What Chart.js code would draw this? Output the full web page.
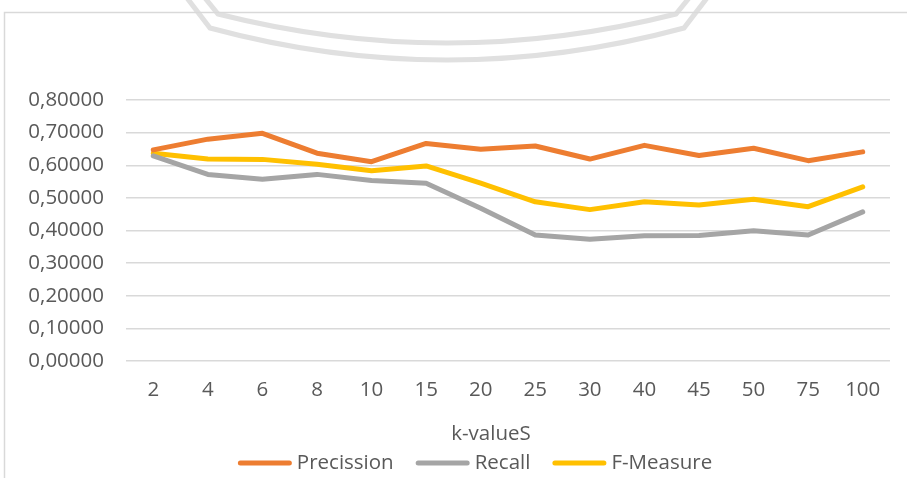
<!DOCTYPE html>
<html>
<head>
<meta charset="utf-8">
<script src="https://cdn.jsdelivr.net/npm/chart.js@4.4.1/dist/chart.umd.min.js"></script>
<style>
  html, body { margin: 0; padding: 0; background: #ffffff; }
  #wrap { width: 907px; height: 478px; position: relative; }
</style>
</head>
<body>
<div id="wrap"><canvas id="c" width="907" height="478"></canvas></div>
<script>
// k values on the category axis
const kValues = ['2', '4', '6', '8', '10', '15', '20', '25', '30', '40', '45', '50', '75', '100'];

// scores per k
const precission = [0.647, 0.680, 0.698, 0.637, 0.611, 0.667, 0.649, 0.659, 0.619, 0.661, 0.630, 0.652, 0.614, 0.641];
const recall     = [0.629, 0.572, 0.557, 0.572, 0.553, 0.545, 0.468, 0.386, 0.373, 0.384, 0.385, 0.399, 0.386, 0.457];
const fMeasure   = [0.637, 0.619, 0.618, 0.603, 0.583, 0.598, 0.545, 0.488, 0.464, 0.488, 0.478, 0.496, 0.473, 0.534];

const seriesNames = ['Precission', 'Recall', 'F-Measure'];
const yTicks = [0, 0.1, 0.2, 0.3, 0.4, 0.5, 0.6, 0.7, 0.8];
const axisTitle = 'k-valueS';

const FONT = "'Open Sans', 'Liberation Sans', sans-serif";
const FONT_SIZE = 20.5;
const TEXT = '#595959';

// frame and faint emblem outline behind the plot
const backdrop = {
  id: 'backdrop',
  beforeDraw(chart) {
    const ctx = chart.ctx;
    ctx.save();
    ctx.fillStyle = '#ffffff';
    ctx.fillRect(0, 0, chart.width, chart.height);

    ctx.strokeStyle = '#e0e0e0';
    ctx.lineWidth = 5;
    ctx.lineJoin = 'miter';
    ctx.beginPath();
    ctx.moveTo(187, -2);
    ctx.lineTo(210, 28);
    ctx.quadraticCurveTo(447, 92, 684, 28);
    ctx.lineTo(707, -2);
    ctx.stroke();
    ctx.beginPath();
    ctx.moveTo(205, -2);
    ctx.lineTo(218, 14);
    ctx.quadraticCurveTo(447, 72, 676, 14);
    ctx.lineTo(689, -2);
    ctx.stroke();

    ctx.strokeStyle = '#d9d9d9';
    ctx.lineWidth = 1.5;
    ctx.strokeRect(4.5, 12.5, chart.width + 20, chart.height + 20);
    ctx.restore();
  }
};

// axis title and legend row under the category axis
const bottomLegend = {
  id: 'bottomLegend',
  afterDraw(chart) {
    const ctx = chart.ctx;
    const sets = chart.data.datasets;
    const lineLen = 54, gapText = 5, gapItem = 22, cy = 463, cx = 475;
    ctx.save();
    ctx.font = FONT_SIZE + 'px ' + FONT;
    ctx.fillStyle = TEXT;
    ctx.textBaseline = 'middle';
    ctx.textAlign = 'center';
    ctx.fillText(axisTitle, 491, 434);

    const widths = sets.map(d => ctx.measureText(d.label).width);
    const total = widths.reduce((a, w) => a + w, 0) + sets.length * (lineLen + gapText) + (sets.length - 1) * gapItem;
    let x = cx - total / 2;
    ctx.textAlign = 'left';
    sets.forEach((d, i) => {
      ctx.strokeStyle = d.borderColor;
      ctx.lineWidth = 5;
      ctx.lineCap = 'round';
      ctx.beginPath();
      ctx.moveTo(x + 2.5, cy);
      ctx.lineTo(x + lineLen - 2.5, cy);
      ctx.stroke();
      x += lineLen + gapText;
      ctx.fillText(d.label, x, cy);
      x += widths[i] + gapItem;
    });
    ctx.restore();
  }
};

const mk = (label, data, color) => ({
  label, data,
  borderColor: color,
  backgroundColor: color,
  borderWidth: 5,
  pointRadius: 0,
  pointHoverRadius: 0,
  tension: 0,
  borderCapStyle: 'round',
  borderJoinStyle: 'round',
  fill: false
});

new Chart(document.getElementById('c'), {
  type: 'line',
  data: {
    labels: kValues,
    datasets: [
      mk(seriesNames[0], precission, '#ED7D31'),
      mk(seriesNames[1], recall, '#A5A5A5'),
      mk(seriesNames[2], fMeasure, '#FFC000')
    ]
  },
  plugins: [backdrop, bottomLegend],
  options: {
    responsive: false,
    animation: false,
    events: [],
    layout: { padding: { top: 100, left: 8, right: 17, bottom: 32 } },
    plugins: { legend: { display: false }, tooltip: { enabled: false } },
    scales: {
      x: {
        offset: true,
        grid: { display: false, drawTicks: false },
        border: { display: false },
        ticks: { color: TEXT, font: { family: FONT, size: FONT_SIZE }, padding: 17, maxRotation: 0, autoSkip: false },
        afterFit(s) { s.height = 85; }
      },
      y: {
        min: 0,
        max: 0.8,
        afterBuildTicks(s) { s.ticks = yTicks.map(v => ({ value: v })); },
        grid: { color: '#d9d9d9', lineWidth: 1.5, drawTicks: false },
        border: { display: false },
        ticks: {
          color: TEXT,
          font: { family: FONT, size: FONT_SIZE },
          padding: 22,
          callback: v => v.toFixed(5).replace('.', ',')
        },
        afterFit(s) { s.width = 118; }
      }
    }
  }
});
</script>
</body>
</html>
